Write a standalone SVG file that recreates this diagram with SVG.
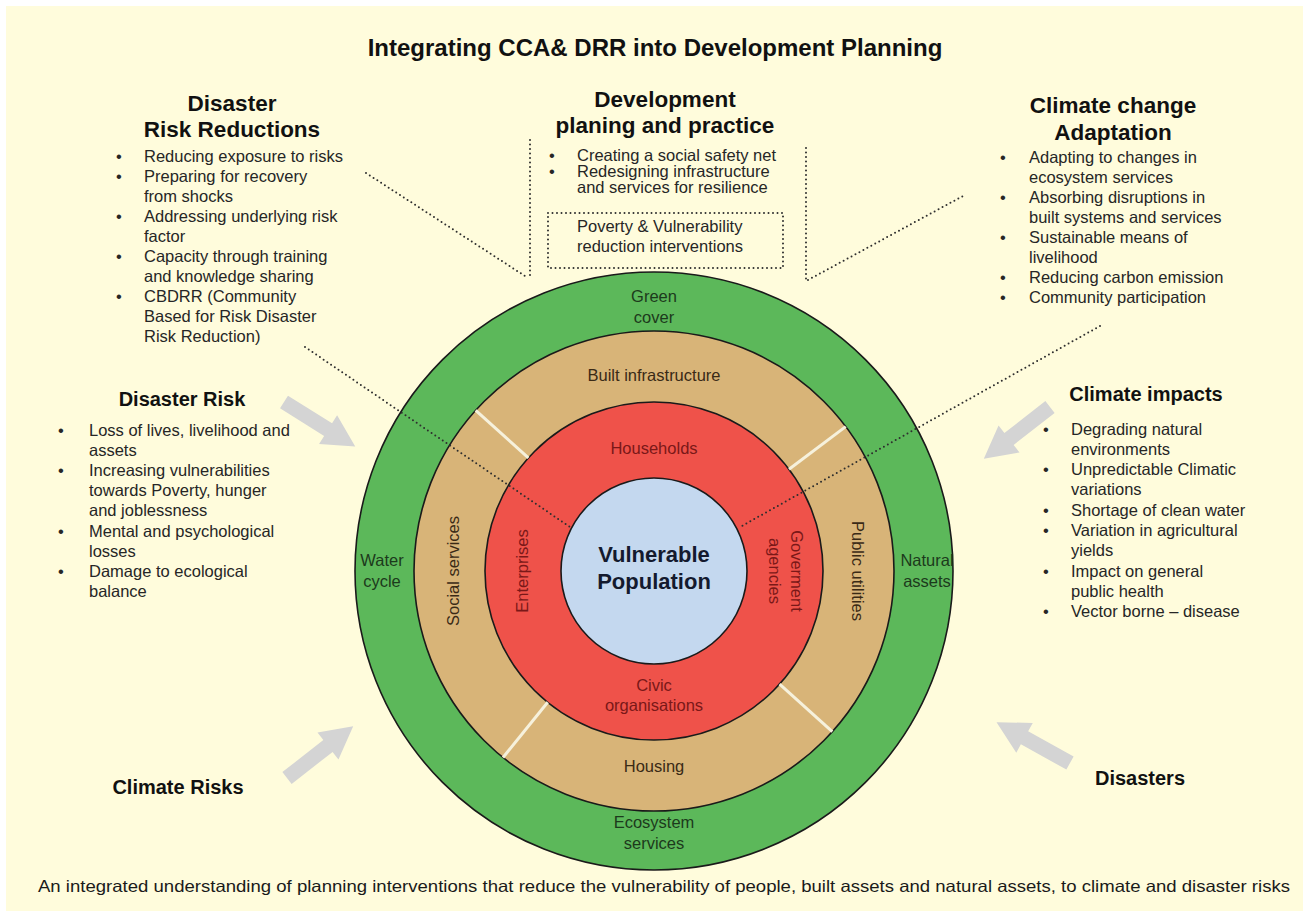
<svg xmlns="http://www.w3.org/2000/svg" width="1303" height="911" viewBox="0 0 1303 911">
<defs>
<style>
text{font-family:"Liberation Sans",Arial,Helvetica,sans-serif;}
.b{font-size:16.5px;fill:#262626;}
.h1{font-size:22.5px;font-weight:bold;fill:#111;text-anchor:middle;}
.h2{font-size:20px;font-weight:bold;fill:#111;text-anchor:middle;}
.ring{stroke:#1a1a1a;stroke-width:1.6;}
.lg{font-size:16.5px;fill:#1c3a1c;text-anchor:middle;}
.lt{font-size:16.5px;fill:#3a2a16;text-anchor:middle;}
.lr{font-size:16.5px;fill:#7a1818;text-anchor:middle;}
.dot{stroke:#2e2e2e;stroke-width:2;stroke-dasharray:0 4.5;stroke-linecap:round;fill:none;}
.div{stroke:#f6f1dc;stroke-width:3;}
.arr{fill:#d4d4d4;}
</style>
<path id="blk" d="M0,-7.5 L52,-7.5 L52,-17 L84,0 L52,17 L52,7.5 L0,7.5 Z"/>
</defs>
<rect width="1303" height="911" fill="#ffffff"/>
<rect x="6" y="6" width="1297" height="905" fill="#fffcdc"/>

<g id="title"><text x="655" y="56" class="h1" style="font-size:24px">Integrating CCA&amp; DRR into Development Planning</text></g>

<g id="ring-green">
<circle cx="654" cy="571" r="299" fill="#5cb85a" class="ring"/>
<text class="lg" x="654" y="302">Green</text><text class="lg" x="654" y="323">cover</text>
<text class="lg" x="382" y="566">Water</text><text class="lg" x="382" y="587">cycle</text>
<text class="lg" x="927" y="566">Natural</text><text class="lg" x="927" y="587">assets</text>
<text class="lg" x="654" y="828">Ecosystem</text><text class="lg" x="654" y="849">services</text>
</g>
<g id="ring-built">
<circle cx="654" cy="571" r="240" fill="#d8b478" class="ring"/>
<text class="lt" x="654" y="381">Built infrastructure</text>
<text class="lt" x="654" y="772">Housing</text>
<text class="lt" transform="translate(453,571) rotate(-90)" dy="0.35em">Social services</text>
<text class="lt" transform="translate(858,571) rotate(90)" dy="0.35em">Public utilities</text>
</g>
<g id="ring-actors">
<circle cx="654" cy="571" r="169" fill="#ef524a" class="ring"/>
<text class="lr" x="654" y="454">Households</text>
<text class="lr" x="654" y="691">Civic</text><text class="lr" x="654" y="711">organisations</text>
<text class="lr" transform="translate(522,571) rotate(-90)" dy="0.35em">Enterprises</text>
<text class="lr" transform="translate(797,571) rotate(90)"><tspan x="0" dy="0.35em">Goverment</tspan><tspan x="0" dy="22">agencies</tspan></text>
</g>
<g id="dividers">
<line class="div" x1="528.4" y1="457.9" x2="475.7" y2="410.4"/>
<line class="div" x1="789" y1="469.3" x2="845.7" y2="426.6"/>
<line class="div" x1="547.7" y1="702.3" x2="503" y2="757.5"/>
<line class="div" x1="779.6" y1="684.1" x2="832.3" y2="731.6"/>
</g>
<g id="core">
<circle cx="654" cy="571" r="93" fill="#c4d8ef" class="ring"/>
<text x="654" y="562" style="font-size:22px;font-weight:bold;fill:#141a2e;text-anchor:middle">Vulnerable</text>
<text x="654" y="589" style="font-size:22px;font-weight:bold;fill:#141a2e;text-anchor:middle">Population</text>
</g>

<g id="drr">
<text class="h1" x="232" y="111">Disaster</text>
<text class="h1" x="232" y="137">Risk Reductions</text>
<g class="b">
<text x="116" y="162">•</text><text x="144" y="162">Reducing exposure to risks</text>
<text x="116" y="182">•</text><text x="144" y="182">Preparing for recovery</text>
<text x="144" y="202">from shocks</text>
<text x="116" y="222">•</text><text x="144" y="222">Addressing underlying risk</text>
<text x="144" y="242">factor</text>
<text x="116" y="262">•</text><text x="144" y="262">Capacity through training</text>
<text x="144" y="282">and knowledge sharing</text>
<text x="116" y="302">•</text><text x="144" y="302">CBDRR (Community</text>
<text x="144" y="322">Based for Risk Disaster</text>
<text x="144" y="342">Risk Reduction)</text>
</g>
</g>

<g id="dev">
<text class="h1" x="665" y="107">Development</text>
<text class="h1" x="665" y="133">planing and practice</text>
<g class="b">
<text x="549" y="161">•</text><text x="577" y="161">Creating a social safety net</text>
<text x="549" y="177">•</text><text x="577" y="177">Redesigning infrastructure</text>
<text x="577" y="193">and services for resilience</text>
</g>
</g>
<g id="pov">
<rect class="dot" x="548" y="213" width="235" height="55"/>
<text class="b" x="577" y="232">Poverty &amp; Vulnerability</text>
<text class="b" x="577" y="252">reduction interventions</text>
</g>

<g id="cca">
<text class="h1" x="1113" y="113">Climate change</text>
<text class="h1" x="1113" y="140">Adaptation</text>
<g class="b">
<text x="1000" y="163">•</text><text x="1029" y="163">Adapting to changes in</text>
<text x="1029" y="183">ecosystem services</text>
<text x="1000" y="203">•</text><text x="1029" y="203">Absorbing disruptions in</text>
<text x="1029" y="223">built systems and services</text>
<text x="1000" y="243">•</text><text x="1029" y="243">Sustainable means of</text>
<text x="1029" y="263">livelihood</text>
<text x="1000" y="283">•</text><text x="1029" y="283">Reducing carbon emission</text>
<text x="1000" y="303">•</text><text x="1029" y="303">Community participation</text>
</g>
</g>

<g id="disaster-risk">
<text class="h2" x="182" y="406">Disaster Risk</text>
<g class="b">
<text x="58" y="436">•</text><text x="89" y="436">Loss of lives, livelihood and</text>
<text x="89" y="456">assets</text>
<text x="58" y="476">•</text><text x="89" y="476">Increasing vulnerabilities</text>
<text x="89" y="496">towards Poverty, hunger</text>
<text x="89" y="516">and joblessness</text>
<text x="58" y="537">•</text><text x="89" y="537">Mental and psychological</text>
<text x="89" y="557">losses</text>
<text x="58" y="577">•</text><text x="89" y="577">Damage to ecological</text>
<text x="89" y="597">balance</text>
</g>
</g>

<g id="climate-impacts">
<text class="h2" x="1146" y="401">Climate impacts</text>
<g class="b">
<text x="1043" y="435">•</text><text x="1071" y="435">Degrading natural</text>
<text x="1071" y="455">environments</text>
<text x="1043" y="475">•</text><text x="1071" y="475">Unpredictable Climatic</text>
<text x="1071" y="495">variations</text>
<text x="1043" y="516">•</text><text x="1071" y="516">Shortage of clean water</text>
<text x="1043" y="536">•</text><text x="1071" y="536">Variation in agricultural</text>
<text x="1071" y="556">yields</text>
<text x="1043" y="577">•</text><text x="1071" y="577">Impact on general</text>
<text x="1071" y="597">public health</text>
<text x="1043" y="617">•</text><text x="1071" y="617">Vector borne – disease</text>
</g>
</g>

<g id="climate-risks"><text class="h2" x="178" y="794">Climate Risks</text></g>
<g id="disasters"><text class="h2" x="1140" y="785">Disasters</text></g>

<g id="connectors">
<line class="dot" x1="530" y1="140" x2="530" y2="279"/>
<line class="dot" x1="806" y1="148" x2="806" y2="280"/>
<line class="dot" x1="366" y1="173" x2="528" y2="278"/>
<line class="dot" x1="808" y1="280" x2="963" y2="196"/>
<line class="dot" x1="305" y1="347" x2="570" y2="527"/>
<line class="dot" x1="1100" y1="326" x2="740" y2="527"/>
<use href="#blk" class="arr" transform="translate(284,402) rotate(32)"/>
<use href="#blk" class="arr" transform="translate(1050,407) rotate(142)"/>
<use href="#blk" class="arr" transform="translate(287,778) rotate(-38)"/>
<use href="#blk" class="arr" transform="translate(1070,763) rotate(209)"/>
</g>

<g id="caption"><text x="664" y="892" class="b" style="text-anchor:middle;fill:#1a1a1a" textLength="1252" lengthAdjust="spacingAndGlyphs">An integrated understanding of planning interventions that reduce the vulnerability of people, built assets and natural assets, to climate and disaster risks</text></g>
</svg>
